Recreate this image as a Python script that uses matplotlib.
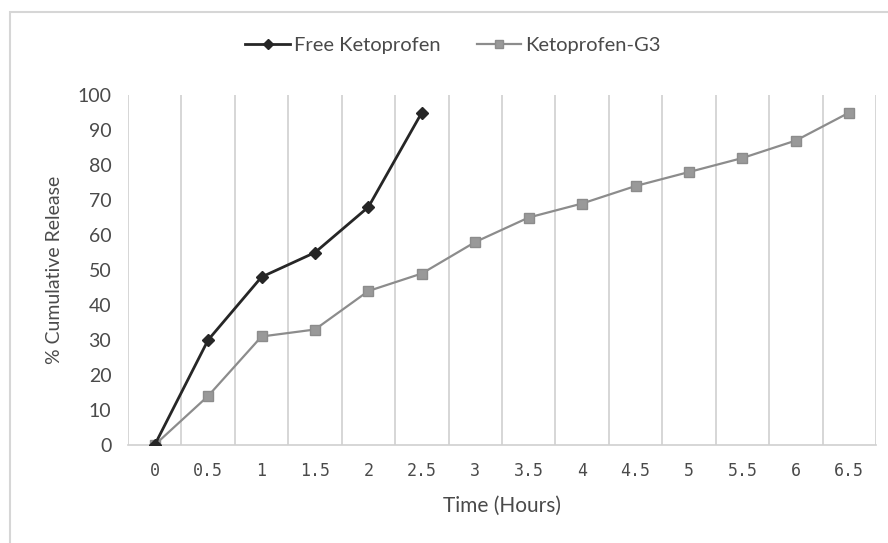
import matplotlib.pyplot as plt
from matplotlib.patches import Rectangle

plt.rcParams['font.family'] = ['Lato', 'DejaVu Sans']

# data
time_labels = ['0', '0.5', '1', '1.5', '2', '2.5', '3', '3.5', '4', '4.5', '5', '5.5', '6', '6.5']
free_keto = [0, 30, 48, 55, 68, 95]
keto_g3 = [0, 14, 31, 33, 44, 49, 58, 65, 69, 74, 78, 82, 87, 95]
y_ticks = list(range(0, 101, 10))

text_col = '#4a4a4a'

fig = plt.figure(figsize=(8.88, 5.43), dpi=100)
ax = fig.add_axes([0.1441, 0.1805, 0.8424, 0.6445])

ax.plot(range(len(free_keto)), free_keto, color='#262626', linewidth=2.0,
        marker='D', markersize=6, label='Free Ketoprofen', zorder=4)
ax.plot(range(len(keto_g3)), keto_g3, color='#8c8c8c', linewidth=1.6,
        marker='s', markersize=7, markerfacecolor='#999999', markeredgecolor='#8c8c8c',
        label='Ketoprofen-G3', zorder=3)

n = len(time_labels)
ax.set_xlim(-0.5, n - 0.5)
ax.set_ylim(0, 100)
ax.set_xticks(range(n))
ax.set_xticklabels(time_labels, family='DejaVu Sans Mono', fontsize=12)
ax.set_yticks(y_ticks)
ax.set_yticklabels([str(v) for v in y_ticks], fontsize=14)

# category boundaries as vertical gridlines
for k in range(n + 1):
    ax.axvline(k - 0.5, color='#d0d0d0', linewidth=1.2, zorder=1)

for side in ['top', 'right', 'left']:
    ax.spines[side].set_visible(False)
ax.spines['bottom'].set_color('#d0d0d0')
ax.spines['bottom'].set_linewidth(1.2)
ax.tick_params(axis='both', length=0, colors=text_col)
ax.tick_params(axis='x', pad=12)
ax.tick_params(axis='y', pad=12)

ax.set_xlabel('Time (Hours)', fontsize=15, color=text_col, labelpad=12)
ax.set_ylabel('% Cumulative Release', fontsize=14, color=text_col, labelpad=10)

fig.legend(loc='center', bbox_to_anchor=(0.51, 0.917), ncol=2, frameon=False,
           fontsize=14.5, handlelength=2.2, handletextpad=0.2, columnspacing=1.8,
           markerscale=0.8, labelcolor=text_col)

# light border around the chart (runs off the right and bottom edges)
fig.patches.append(Rectangle((10 / 888, -10 / 543), 900 / 888, 541 / 543,
                             transform=fig.transFigure, fill=False,
                             edgecolor='#d6d6d6', linewidth=1.5))

fig.savefig('out.png', dpi=100)
